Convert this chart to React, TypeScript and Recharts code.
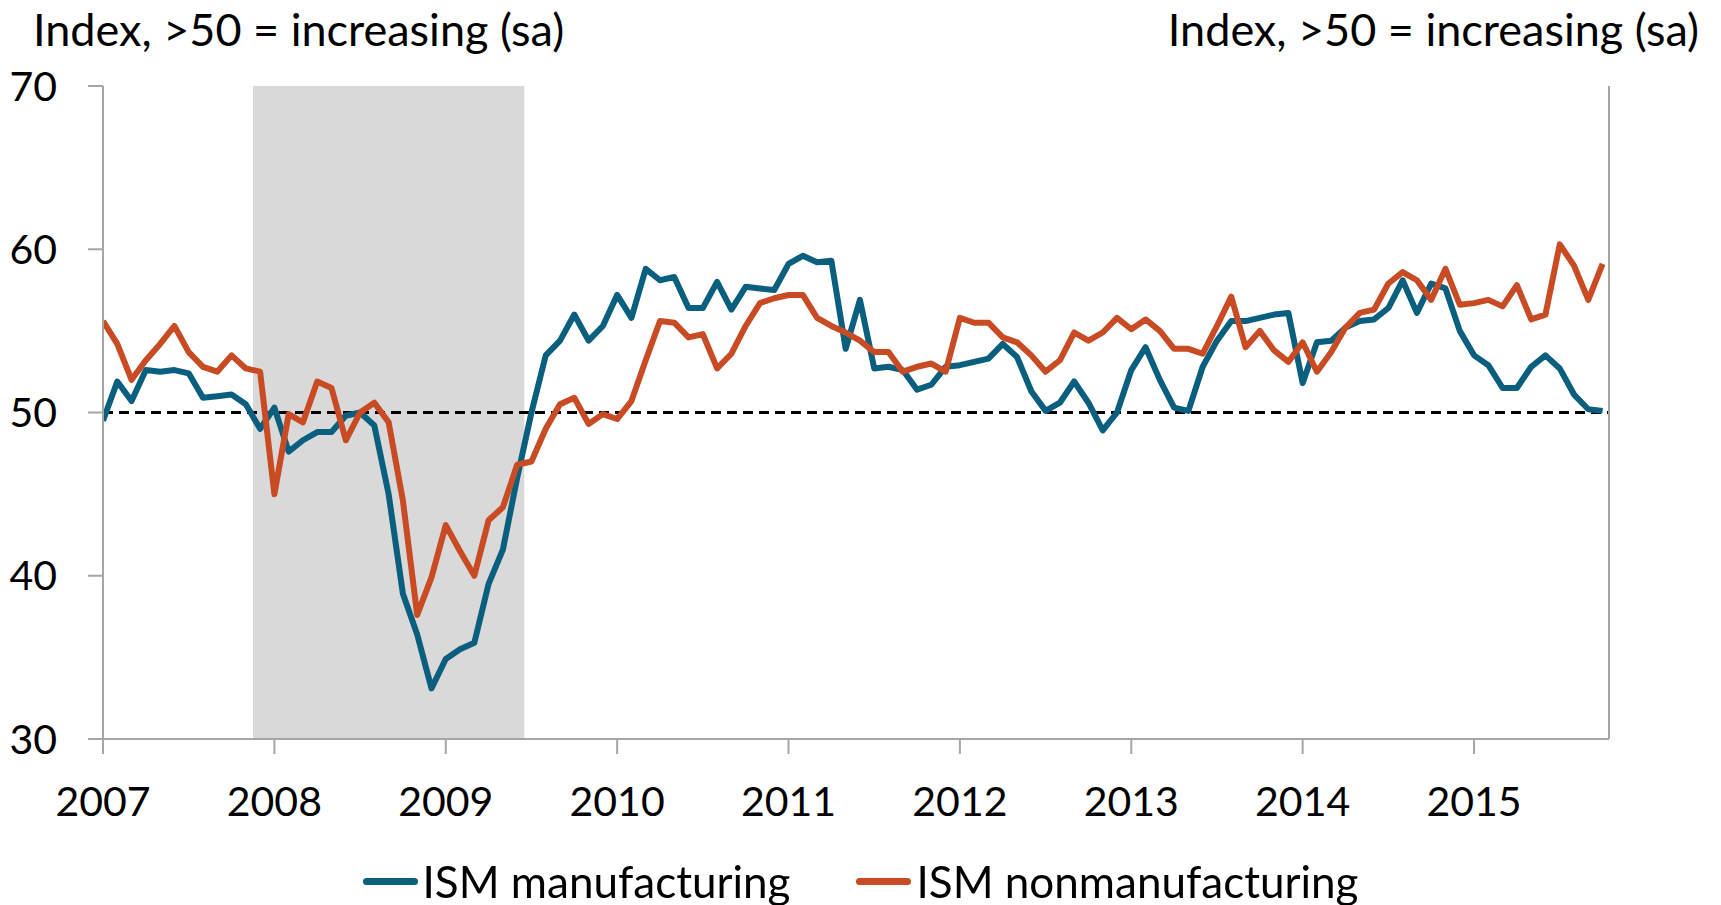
import { LineChart, Line, XAxis, YAxis, ReferenceArea, ReferenceLine } from "recharts";

// months counted from Jan 2007
const startYear = 2007;
const yearTicks = [0, 12, 24, 36, 48, 60, 72, 84, 96];
const valueTicks = [30, 40, 50, 60, 70];

// recession band, Dec 2007 - Jun 2009
const recessionStart = 10.5;
const recessionEnd = 29.5;

const ismManufacturing = [
  49.5, 51.9, 50.7, 52.6, 52.5, 52.6, 52.4, 50.9, 51.0, 51.1, 50.5, 49.0,
  50.3, 47.6, 48.3, 48.8, 48.8, 49.8, 50.0, 49.2, 45.0, 38.9, 36.4, 33.1,
  34.9, 35.5, 35.9, 39.5, 41.6, 46.0, 50.0, 53.5, 54.4, 56.0, 54.4, 55.3,
  57.2, 55.8, 58.8, 58.1, 58.3, 56.4, 56.4, 58.0, 56.3, 57.7, 57.6, 57.5,
  59.1, 59.6, 59.2, 59.3, 53.9, 56.9, 52.7, 52.8, 52.6, 51.4, 51.7, 52.8,
  52.9, 53.1, 53.3, 54.2, 53.4, 51.3, 50.1, 50.6, 51.9, 50.6, 48.9, 50.0,
  52.6, 54.0, 52.0, 50.3, 50.1, 52.8, 54.4, 55.6, 55.6, 55.8, 56.0, 56.1,
  51.8, 54.3, 54.4, 55.2, 55.6, 55.7, 56.4, 58.1, 56.1, 57.9, 57.6, 55.0,
  53.5, 52.9, 51.5, 51.5, 52.8, 53.5, 52.7, 51.1, 50.2, 50.1,
];

const ismNonmanufacturing = [
  55.6, 54.2, 52.0, 53.2, 54.2, 55.3, 53.7, 52.8, 52.5, 53.5, 52.7, 52.5,
  45.0, 49.9, 49.4, 51.9, 51.5, 48.3, 50.0, 50.6, 49.4, 44.6, 37.6, 39.9,
  43.1, 41.5, 40.0, 43.4, 44.2, 46.8, 47.0, 49.0, 50.5, 50.9, 49.3, 49.9,
  49.6, 50.7, 53.2, 55.6, 55.5, 54.6, 54.8, 52.7, 53.6, 55.3, 56.7, 57.0,
  57.2, 57.2, 55.8, 55.3, 54.9, 54.4, 53.7, 53.7, 52.5, 52.8, 53.0, 52.5,
  55.8, 55.5, 55.5, 54.6, 54.3, 53.5, 52.5, 53.2, 54.9, 54.4, 54.9, 55.8,
  55.1, 55.7, 55.0, 53.9, 53.9, 53.6, 55.3, 57.1, 54.0, 55.0, 53.8, 53.1,
  54.3, 52.5, 53.7, 55.2, 56.1, 56.3, 57.9, 58.6, 58.1, 56.9, 58.8, 56.6,
  56.7, 56.9, 56.5, 57.8, 55.7, 56.0, 60.3, 59.0, 56.9, 59.1,
];

const data = ismManufacturing.map((v, i) => ({
  month: i,
  mfg: v,
  nonmfg: ismNonmanufacturing[i],
}));

const FONT = "Lato, 'Open Sans', sans-serif";
const BLUE = "#0A5E7E";
const ORANGE = "#C84B24";
const AXIS = "#A6A6A6";

const tickStyle = { fill: "#000", fontSize: 41, fontFamily: FONT };

export default function App() {
  return (
    <div style={{ position: "fixed", left: 0, top: 0, width: 1721, height: 905, background: "#fff", fontFamily: FONT }}>
      <LineChart width={1721} height={905} data={data} margin={{ top: 86, right: 0, bottom: 0, left: 0 }}>
        <ReferenceArea yAxisId="left" x1={recessionStart} x2={recessionEnd} fill="#D9D9D9" fillOpacity={1} stroke="none" />
        <XAxis
          dataKey="month"
          type="number"
          domain={[0, 105.45]}
          ticks={yearTicks}
          interval={0}
          allowDataOverflow
          tickFormatter={(m: number) => String(startYear + m / 12)}
          height={166}
          stroke={AXIS}
          strokeWidth={2}
          tickSize={15}
          tickMargin={33}
          tick={tickStyle}
        />
        <YAxis
          yAxisId="left"
          domain={[30, 70]}
          ticks={valueTicks}
          interval={0}
          width={103}
          stroke={AXIS}
          strokeWidth={2}
          tickSize={15}
          tickMargin={31}
          tick={tickStyle}
        />
        <YAxis
          yAxisId="right"
          orientation="right"
          domain={[30, 70]}
          ticks={valueTicks}
          interval={0}
          width={112}
          stroke={AXIS}
          strokeWidth={2}
          tickSize={15}
          tickMargin={24}
          tick={tickStyle}
        />
        <ReferenceLine yAxisId="left" y={50} stroke="#000" strokeWidth={3} strokeDasharray="10 6" />
        <Line
          yAxisId="left"
          dataKey="mfg"
          stroke={BLUE}
          strokeWidth={6}
          strokeLinejoin="round"
          dot={false}
          isAnimationActive={false}
        />
        <Line
          yAxisId="left"
          dataKey="nonmfg"
          stroke={ORANGE}
          strokeWidth={6}
          strokeLinejoin="round"
          dot={false}
          isAnimationActive={false}
        />
      </LineChart>

      <div style={{ position: "absolute", left: 33, top: 7, fontSize: 45, lineHeight: "44px", whiteSpace: "nowrap" }}>
        Index, &gt;50 = increasing (sa)
      </div>
      <div style={{ position: "absolute", right: 22, top: 7, fontSize: 45, lineHeight: "44px", whiteSpace: "nowrap" }}>
        Index, &gt;50 = increasing (sa)
      </div>

      <div
        style={{
          position: "absolute",
          left: 0,
          width: 1721,
          top: 855,
          height: 52,
          display: "flex",
          justifyContent: "center",
          alignItems: "center",
          fontSize: 44,
          whiteSpace: "nowrap",
        }}
      >
        <span style={{ display: "inline-block", width: 55, height: 7, borderRadius: 3.5, background: BLUE, marginRight: 5 }} />
        <span>ISM manufacturing</span>
        <span style={{ display: "inline-block", width: 55, height: 7, borderRadius: 3.5, background: ORANGE, marginLeft: 66, marginRight: 5 }} />
        <span>ISM nonmanufacturing</span>
      </div>
    </div>
  );
}
